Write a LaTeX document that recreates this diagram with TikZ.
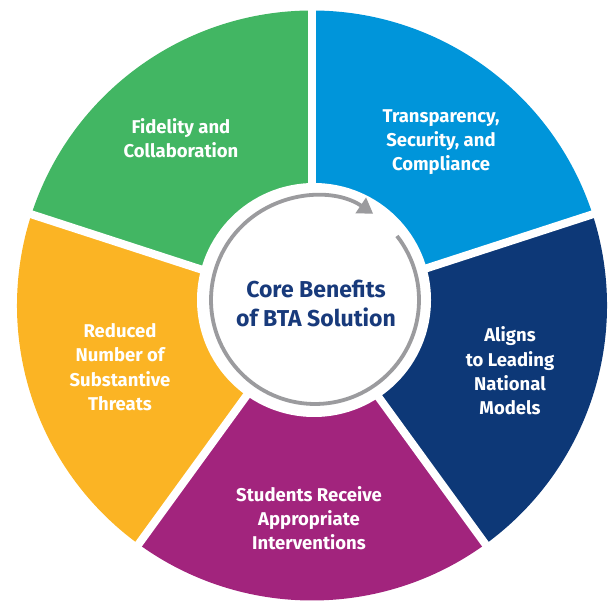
\documentclass[tikz,border=0pt]{standalone}
\usepackage{fontspec}
\setmainfont{Fira Sans}
\usetikzlibrary{arrows.meta}
\definecolor{cgreen}{HTML}{42B663}
\definecolor{cblue}{HTML}{0095DA}
\definecolor{cnavy}{HTML}{0D3877}
\definecolor{cpurple}{HTML}{A2247D}
\definecolor{cyellow}{HTML}{FBB424}
\definecolor{cgray}{HTML}{9B9B9E}
\definecolor{ctext}{HTML}{183A7B}
\begin{document}
\begin{tikzpicture}[x=1pt,y=1pt,
  seglabel/.style={text=white, align=center, font=\bfseries\fontsize{18.5}{24.3}\selectfont},
  corelabel/.style={text=ctext, align=center, font=\bfseries\fontsize{23}{29}\selectfont},
  gapline/.style={white, line width=8pt},
  cyclearrow/.style={cgray, line width=3.8pt, -{Triangle[length=15pt,width=18pt]}}]
\useasboundingbox (0,0) rectangle (615,602);
\coordinate (O) at (312,296.5);
\coordinate (C) at (314,302);
\coordinate (G) at (315,302);
\fill[cgreen]  (O) -- ++(90:295)  arc[start angle=90,  end angle=162, radius=295] -- cycle;
\fill[cyellow] (O) -- ++(162:295) arc[start angle=162, end angle=234, radius=295] -- cycle;
\fill[cpurple] (O) -- ++(234:295) arc[start angle=234, end angle=306, radius=295] -- cycle;
\fill[cnavy]   (O) -- ++(306:295) arc[start angle=306, end angle=378, radius=295] -- cycle;
\fill[cblue]   (O) -- ++(18:295)  arc[start angle=18,  end angle=90,  radius=295] -- cycle;
\foreach \a in {18,90,162,234,306} \draw[gapline] (O) -- ++(\a:300);
\fill[white] (C) circle[radius=117];
\draw[cyclearrow] (G) ++(38:104) arc[start angle=38, end angle=-304, radius=104];
\node[seglabel] (fid) at (181,463.5) {Fidelity and\\Collaboration};
\node[seglabel] (tra) at (441,460) {Transparency,\\Security, and\\Compliance};
\node[seglabel] (ali) at (510,231) {Aligns\\to Leading\\National\\Models};
\node[seglabel] (stu) at (309,84) {Students Receive\\Appropriate\\Interventions};
\node[seglabel] (red) at (120,235) {Reduced\\Number of\\Substantive\\Threats};
\node[corelabel] (core) at (316,299) {Core Benefits\\of BTA Solution};
\end{tikzpicture}
\end{document}
